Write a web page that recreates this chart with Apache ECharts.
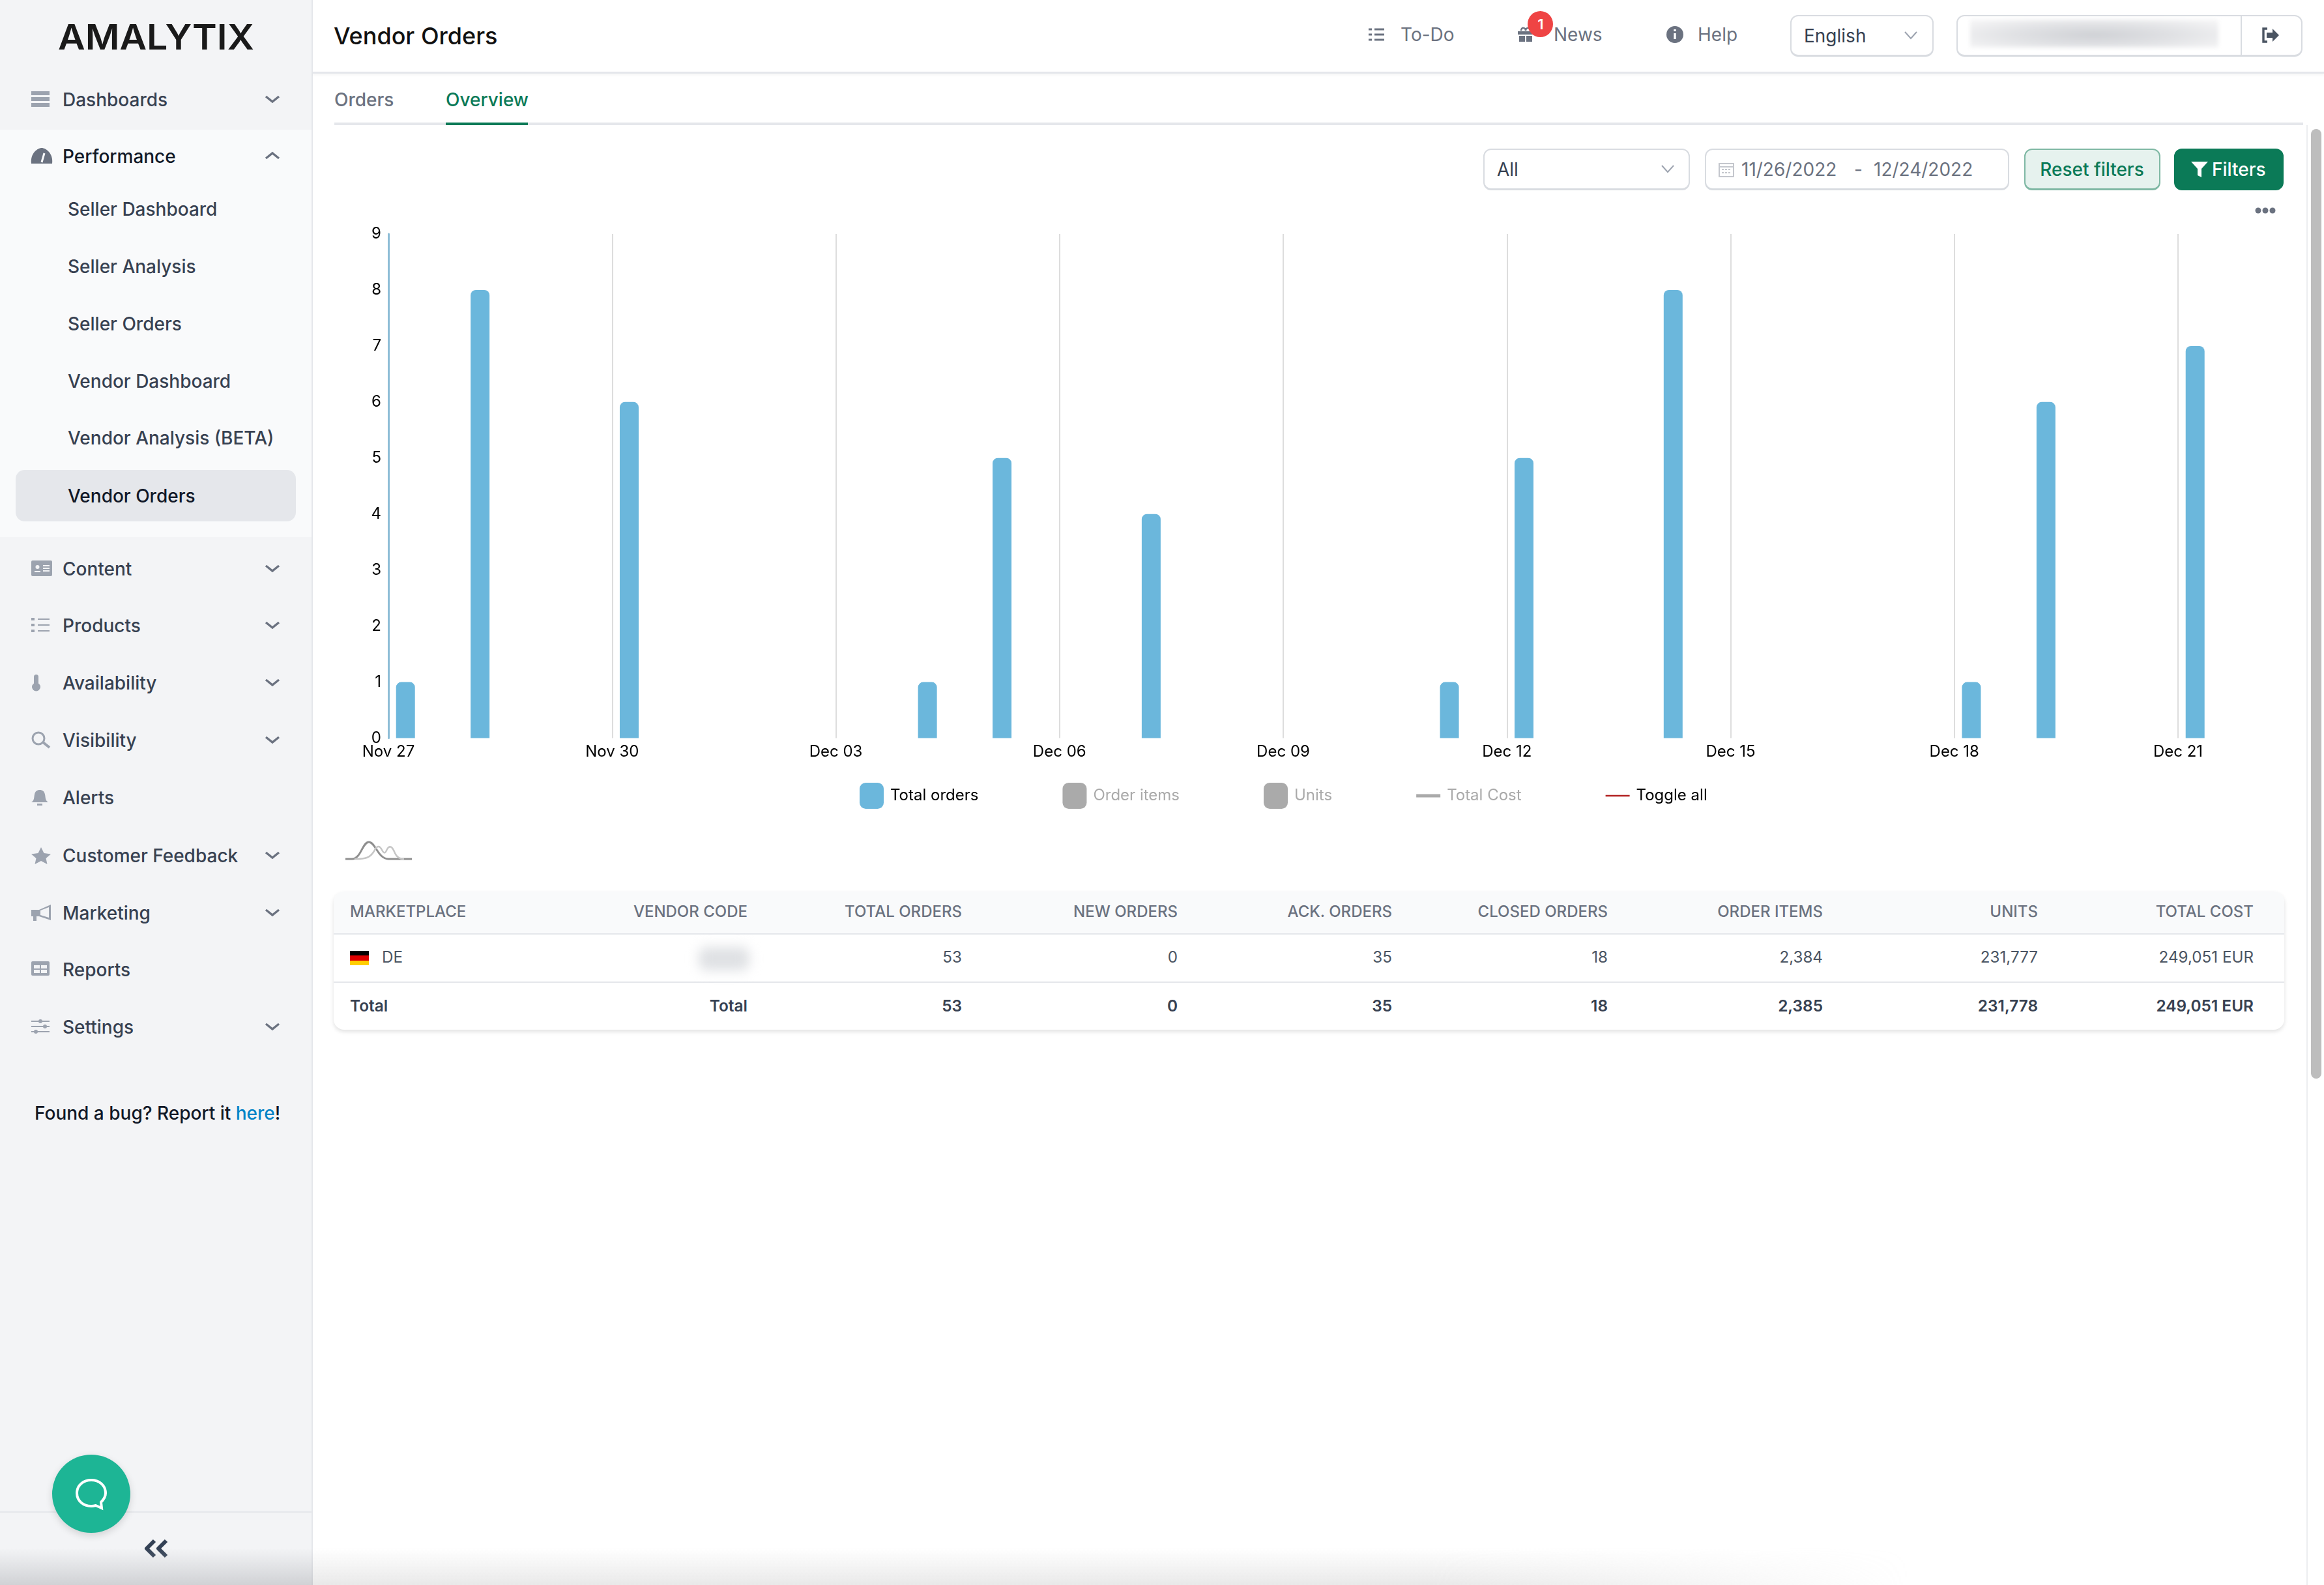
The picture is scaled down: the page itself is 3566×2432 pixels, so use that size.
<!DOCTYPE html>
<html>
<head>
<meta charset="utf-8">
<title>Vendor Orders</title>
<script src="https://cdn.jsdelivr.net/npm/echarts@6/dist/echarts.min.js"></script>
<style>
  html, body { margin: 0; padding: 0; background: #fff; }
  body { position: relative; width: 3566px; height: 2432px; overflow: hidden; font-family: Inter, sans-serif; color: #374151; }
  .abs { position: absolute; white-space: nowrap; line-height: 1; }
  .mid { transform: translateY(-50%); }
  .right { transform: translate(-100%, -50%); }
  svg { position: absolute; overflow: visible; }
  #sidebar { position: absolute; left: 0; top: 0; width: 478px; height: 2432px; background: #f3f4f6; border-right: 2px solid #e5e7eb; }
  #perf { position: absolute; left: 0; top: 199px; width: 478px; height: 625px; background: #f9fafb; }
  #active { position: absolute; left: 24px; top: 721px; width: 430px; height: 79px; background: #e5e7eb; border-radius: 14px; }
  .nav { font-size: 28px; font-weight: 500; }
  .box { position: absolute; box-sizing: border-box; border: 2px solid #d9dce1; border-bottom-width: 3px; border-radius: 12px; background: #fff; }
  .tab { font-size: 28px; font-weight: 500; }
  #card { position: absolute; left: 512px; top: 1368px; width: 2993px; height: 212px; background: #fff; border-radius: 16px; box-shadow: 0 3px 6px rgba(0,0,0,.12); overflow: hidden; }
  #card .head { position: absolute; left: 0; top: 0; width: 100%; height: 64px; background: #f9fafb; border-bottom: 2px solid #e5e7eb; }
  #card .sep { position: absolute; left: 0; top: 138px; width: 100%; height: 2px; background: #e5e7eb; }
  .th { font-size: 24px; font-weight: 500; color: #6b7280; }
  .td { font-size: 24.2px; color: #4b5563; }
  .tt { font-size: 24.4px; font-weight: 600; color: #374151; }
  #chart { position: absolute; left: 481px; top: 300px; width: 3050px; height: 960px; }
</style>
</head>
<body>
<div id="sidebar"></div>
<div id="perf"></div>
<div id="active"></div>
<div class="abs" style="left:89px;top:57px;font-size:54px;font-weight:600;color:#1a1a1a;transform-origin:left center;transform:translateY(-50%) scaleX(1.06)">AMALYTIX</div>
<div id="navItems"></div>
<div class="abs mid nav" style="left:53px;top:1708px;color:#111827">Found a bug? Report it <span style="color:#0284c7">here</span>!</div>
<div style="position:absolute;left:0;top:2319px;width:478px;height:2px;background:#e5e7eb"></div>
<div style="position:absolute;left:80px;top:2232px;width:120px;height:120px;border-radius:50%;background:#1db595;box-shadow:0 4px 12px rgba(0,0,0,.14)"></div>
<svg style="left:116px;top:2269px" width="48" height="46" viewBox="0 0 48 46"><path d="M24 2C12 2 2 10 2 22s10 20 22 20c3 0 5-.5 7-1l9 4-1-9c4-4 7-8 7-14C46 10 36 2 24 2z" fill="none" stroke="#fff" stroke-width="4"/></svg>
<svg style="left:220px;top:2361px" width="38" height="30" viewBox="0 0 38 30"><path d="M17 3L5 15l12 12M35 3L23 15l12 12" fill="none" stroke="#334155" stroke-width="6" stroke-linejoin="round"/></svg>

<!-- header -->
<div style="position:absolute;left:480px;top:110px;width:3086px;height:3px;background:#e5e7eb;box-shadow:0 2px 4px rgba(0,0,0,.06)"></div>
<div class="abs mid" style="left:512px;top:55px;font-size:36px;font-weight:500;color:#111">Vendor Orders</div>
<svg style="left:2100px;top:42px" width="26" height="22" viewBox="0 0 26 22"><path d="M0 3h5M0 11h5M0 19h5M9 3h15M9 11h15M9 19h15" stroke="#6b7280" stroke-width="3"/></svg>
<div class="abs mid tab" style="left:2149px;top:53px;color:#6b7280;font-weight:400">To-Do</div>
<svg style="left:2329px;top:42px" width="24" height="22" viewBox="0 0 24 22"><path d="M0 6h24v5H0zM2 13h9v9H2zM13 13h9v9h-9z" fill="#6b7280"/><path d="M5 5c0-6 7-5 7 0 0-5 7-6 7 0" fill="none" stroke="#6b7280" stroke-width="2.500"/></svg>
<div class="abs" style="left:2344px;top:17px;width:39px;height:40px;border-radius:50%;background:#ef4444"></div>
<div class="abs" style="left:2364px;top:37px;font-size:22px;font-weight:600;color:#fff;transform:translate(-50%,-50%)">1</div>
<div class="abs mid tab" style="left:2384px;top:53px;color:#6b7280;font-weight:400">News</div>
<svg style="left:2557px;top:40px" width="26" height="26" viewBox="0 0 26 26"><circle cx="13" cy="13" r="13" fill="#6b7280"/><path d="M13 5v3M13 11v9" stroke="#fff" stroke-width="3.4"/></svg>
<div class="abs mid tab" style="left:2605px;top:53px;color:#6b7280;font-weight:400">Help</div>
<div class="box" style="left:2747px;top:23px;width:220px;height:64px"></div>
<div class="abs mid tab" style="left:2768px;top:55px;font-weight:400;color:#374151">English</div>
<svg style="left:2922px;top:48px" width="20" height="12" viewBox="0 0 20 12"><path d="M1 1l9 10 9-10" fill="none" stroke="#9ca3af" stroke-width="2"/></svg>
<div class="box" style="left:3002px;top:23px;width:531px;height:64px"></div>
<div style="position:absolute;left:3438px;top:24px;width:2px;height:61px;background:#d9dce1"></div>
<div style="position:absolute;left:3023px;top:30px;width:381px;height:43px;background:radial-gradient(ellipse at 50% 55%, #cfd1d5 0%, #e0e1e4 45%, #f4f4f5 90%);filter:blur(3px)"></div>
<svg style="left:3470px;top:42px" width="28" height="24" viewBox="0 0 28 24"><path d="M9 2H3v20h6" fill="none" stroke="#4b5563" stroke-width="3.4"/><path d="M8 8h9V2l10 10-10 10v-6H8z" fill="#4b5563"/></svg>

<!-- tabs -->
<div style="position:absolute;left:513px;top:188px;width:3021px;height:4px;background:#e5e7eb"></div>
<div style="position:absolute;left:684px;top:188px;width:126px;height:4px;background:#0b7a57"></div>
<div class="abs mid tab" style="left:513px;top:153px;color:#6b7280">Orders</div>
<div class="abs mid tab" style="left:684px;top:153px;color:#0b7a57">Overview</div>

<!-- scrollbar -->
<div style="position:absolute;left:3539px;top:192px;width:2px;height:2240px;background:#eceef0"></div>
<div style="position:absolute;left:3546px;top:198px;width:16px;height:1457px;border-radius:8px;background:#bdbdbd"></div>

<!-- filters -->
<div class="box" style="left:2276px;top:228px;width:317px;height:64px"></div>
<div class="abs mid tab" style="left:2297px;top:260px;font-weight:400;color:#374151">All</div>
<svg style="left:2549px;top:253px" width="20" height="12" viewBox="0 0 20 12"><path d="M1 1l9 10 9-10" fill="none" stroke="#9ca3af" stroke-width="2"/></svg>
<div class="box" style="left:2616px;top:228px;width:467px;height:64px"></div>
<svg style="left:2637px;top:248px" width="24" height="24" viewBox="0 0 24 24"><rect x="1" y="3" width="22" height="20" fill="none" stroke="#c4c7cd" stroke-width="2"/><path d="M1 8h22" stroke="#c4c7cd" stroke-width="2"/><path d="M5 12h14M5 17h14" stroke="#c4c7cd" stroke-width="2" stroke-dasharray="3 2"/></svg>
<div class="abs mid tab" style="left:2672px;top:260px;font-weight:400;color:#6b7280">11/26/2022</div>
<div class="abs mid tab" style="left:2845px;top:260px;font-weight:400;color:#6b7280">-</div>
<div class="abs mid tab" style="left:2875px;top:260px;font-weight:400;color:#6b7280">12/24/2022</div>
<div class="box" style="left:3106px;top:228px;width:209px;height:64px;background:#e6f2ee;border-color:#7fb8a4"></div>
<div class="abs tab" style="left:3210px;top:260px;color:#0b7a57;transform:translate(-50%,-50%)">Reset filters</div>
<div class="box" style="left:3336px;top:228px;width:168px;height:64px;background:#0b7a57;border-color:#0b7a57"></div>
<svg style="left:3362px;top:248px" width="26" height="24" viewBox="0 0 26 24"><path d="M0 0h26L16 11v13l-6-3V11z" fill="#fff"/></svg>
<div class="abs mid tab" style="left:3394px;top:260px;color:#fff">Filters</div>
<svg style="left:3460px;top:317px" width="32" height="12" viewBox="0 0 32 12"><circle cx="5" cy="6" r="4.5" fill="#6b7280"/><circle cx="16" cy="6" r="4.5" fill="#6b7280"/><circle cx="27" cy="6" r="4.5" fill="#6b7280"/></svg>

<div id="chart"></div>

<!-- small line icon above the table -->
<svg style="left:530px;top:1290px" width="102" height="30" viewBox="0 0 102 30">
  <path d="M0 28h10c14 0 16-26 26-26s14 26 30 26h36" fill="none" stroke="#8f8f8f" stroke-width="3"/>
  <path d="M14 28c18 0 24-2 30-12 4-8 8-10 12-2 3 6 5 6 8-1 4-7 8-4 12 6 3 7 8 9 14 9" fill="none" stroke="#c6c6c6" stroke-width="2.5"/>
</svg>

<div id="card"><div class="head"></div><div class="sep"></div></div>
<div id="tableText"></div>

<!-- grey fade at the bottom edge of the window -->
<div style="position:absolute;left:0;top:2375px;width:480px;height:57px;background:linear-gradient(rgba(180,182,186,0),rgba(180,182,186,.55))"></div>
<div style="position:absolute;left:480px;top:2375px;width:2450px;height:57px;background:linear-gradient(rgba(200,200,200,0),rgba(200,200,200,.4));-webkit-mask-image:linear-gradient(90deg,#000 70%,transparent)"></div>

<script>
// chart data
const orderDates = ['2022-11-27', '2022-11-28', '2022-11-30', '2022-12-04', '2022-12-05', '2022-12-07',
    '2022-12-11', '2022-12-12', '2022-12-14', '2022-12-18', '2022-12-19', '2022-12-21']
const orderCounts = [1, 8, 6, 1, 5, 4, 1, 5, 8, 1, 6, 7]
const tickLabels = ['Nov 27', 'Nov 30', 'Dec 03', 'Dec 06', 'Dec 09', 'Dec 12', 'Dec 15', 'Dec 18', 'Dec 21']
const legendBars = ['Total orders', 'Order items', 'Units']
const legendLines = ['Total Cost', 'Toggle all']

// table data
const tableHeaders = ['VENDOR CODE', 'TOTAL ORDERS', 'NEW ORDERS', 'ACK. ORDERS', 'CLOSED ORDERS', 'ORDER ITEMS', 'UNITS', 'TOTAL COST']
const deRow = ['', '53', '0', '35', '18', '2,384', '231,777', '249,051 EUR']
const totalRow = ['Total', '53', '0', '35', '18', '2,385', '231,778', '249,051 EUR']

// sidebar
const mainMenu = [['Dashboards', 153], ['Performance', 240], ['Content', 873], ['Products', 960], ['Availability', 1048],
    ['Visibility', 1136], ['Alerts', 1224], ['Customer Feedback', 1313], ['Marketing', 1401], ['Reports', 1488], ['Settings', 1576]]
const subMenu = [['Seller Dashboard', 321], ['Seller Analysis', 409], ['Seller Orders', 497], ['Vendor Dashboard', 585],
    ['Vendor Analysis (BETA)', 672], ['Vendor Orders', 761]]
const noChevron = ['Alerts', 'Reports']

const menuIcons = {
    'Dashboards': '<path d="M0 0h28v6H0zM0 9h28v6H0zM0 18h28v6H0z" fill="#9ca3af"/>',
    'Performance': '<path d="M0 24C-2 8 10 0 16 0s18 8 16 24z" fill="#6b7280"/><path d="M16 22l4-14" stroke="#f9fafb" stroke-width="3"/>',
    'Content': '<rect width="32" height="24" rx="2" fill="#9ca3af"/><path d="M18 8h10M18 12h10M18 16h10M5 17h9" stroke="#f3f4f6" stroke-width="2"/><circle cx="9.5" cy="10" r="3" fill="#f3f4f6"/>',
    'Products': '<path d="M0 3h5M0 12h5M0 21h5" stroke="#9ca3af" stroke-width="4"/><path d="M10 3h18M10 12h18M10 21h18" stroke="#9ca3af" stroke-width="2"/>',
    'Availability': '<rect x="4" y="0" width="7" height="18" rx="3.5" fill="#9ca3af"/><circle cx="7.5" cy="19" r="6.5" fill="#9ca3af"/>',
    'Visibility': '<circle cx="11" cy="10" r="9" fill="none" stroke="#9ca3af" stroke-width="3"/><path d="M18 16l10 8" stroke="#9ca3af" stroke-width="4"/>',
    'Alerts': '<path d="M0 20c5-3 4-8 5-12 1-5 4-7 8-7s7 2 8 7c1 4 0 9 5 12z" fill="#9ca3af"/><rect x="9" y="22" width="8" height="3" fill="#9ca3af"/>',
    'Customer Feedback': '<path d="M15 0l4.5 9 10.5 1.500-7.500 6.500 2 9-9.500-5-9.500 5 2-9L0 10.500 10.500 9z" fill="#9ca3af"/>',
    'Marketing': '<path d="M0 8h12L30 0v24L12 18H8v7H3v-7H0z" fill="#9ca3af"/><path d="M14 9l13-5v16l-13-4z" fill="#f3f4f6"/>',
    'Reports': '<rect width="28" height="22" rx="2" fill="#9ca3af"/><path d="M4 6h9v5H4zM15 6h9v5h-9zM4 13h9v5H4zM15 13h9v5h-9z" fill="#f3f4f6"/>',
    'Settings': '<path d="M0 4h28M0 12h28M0 20h28" stroke="#9ca3af" stroke-width="2"/><circle cx="14" cy="4" r="3" fill="#9ca3af"/><circle cx="21" cy="12" r="3" fill="#9ca3af"/><circle cx="7" cy="20" r="3" fill="#9ca3af"/>'
}

const addText = function (parent, cls, left, top, text, color) {
    const div = document.createElement('div')
    div.className = 'abs ' + cls
    div.style.left = left + 'px'
    div.style.top = top + 'px'
    if (color) div.style.color = color
    div.textContent = text
    parent.appendChild(div)
    return div
}

const navItems = document.getElementById('navItems')
mainMenu.forEach(function (item) {
    const name = item[0], y = item[1]
    const strong = name === 'Performance'
    addText(navItems, 'mid nav', 96, y, name, strong ? '#111827' : '#374151')
    navItems.insertAdjacentHTML('beforeend', '<svg style="left:48px;top:' + (y - 13) + 'px" width="32" height="26" viewBox="0 0 32 26">' + menuIcons[name] + '</svg>')
    if (!noChevron.includes(name)) {
        const d = strong ? 'M2 11l10-8 10 8' : 'M2 3l10 8 10-8'
        navItems.insertAdjacentHTML('beforeend', '<svg style="left:406px;top:' + (y - 8) + 'px" width="24" height="14" viewBox="0 0 24 14"><path d="' + d + '" fill="none" stroke="#6b7280" stroke-width="3.4"/></svg>')
    }
})
subMenu.forEach(function (item) {
    addText(navItems, 'mid nav', 104, item[1], item[0], item[0] === 'Vendor Orders' ? '#111827' : '#374151')
})

// table text, the card is drawn in html around it
const columnRight = [1147, 1476, 1807, 2136, 2467, 2797, 3127, 3458]
const tableText = document.getElementById('tableText')
addText(tableText, 'mid th', 537, 1399, 'MARKETPLACE')
addText(tableText, 'mid td', 586, 1469, 'DE')
addText(tableText, 'mid tt', 537, 1543, 'Total')
tableHeaders.forEach(function (header, i) {
    addText(tableText, 'right th', columnRight[i], 1399, header)
    if (deRow[i]) addText(tableText, 'right td', columnRight[i], 1469, deRow[i])
    addText(tableText, 'right tt', columnRight[i], 1543, totalRow[i])
})
tableText.insertAdjacentHTML('beforeend', '<div style="position:absolute;left:537px;top:1459px;width:29px;height:22px;background:linear-gradient(#000 33%,#d00 33%,#d00 66%,#ffce00 66%)"></div>')
tableText.insertAdjacentHTML('beforeend', '<div style="position:absolute;left:1072px;top:1453px;width:78px;height:36px;background:#dfe1e4;border-radius:12px;filter:blur(9px)"></div>')

// orders are stamped in the account timezone, so bars sit a bit right of the day gridline
const DAY = 24 * 3600 * 1000
const timezoneShift = 5.5 / 24
const firstDay = Date.parse(orderDates[0])
const ordersData = orderDates.map(function (date, i) {
    return [(Date.parse(date) - firstDay) / DAY + timezoneShift, orderCounts[i]]
})

const myChart = echarts.init(document.getElementById('chart'))
const tickStep = 3

const barSeries = legendBars.map(function (name, i) {
    return {
        name: name,
        type: 'bar',
        clip: false,
        barWidth: 29,
        data: i === 0 ? ordersData : [],
        itemStyle: {color: '#6bb7dc', borderRadius: [8, 8, 0, 0]}
    }
})
const lineSeries = legendLines.map(function (name) {
    return {
        name: name,
        type: 'line',
        symbol: 'none',
        data: [],
        lineStyle: {width: 2, color: '#b22222'},
        itemStyle: {color: '#b22222'}
    }
})

const option = {
    animation: false,
    grid: {left: 115, top: 59, width: 2746, height: 773.5},
    legend: {
        left: 833,
        top: 896,
        itemGap: 129,
        itemWidth: 37,
        itemHeight: 40,
        inactiveColor: '#aaaaaa',
        textStyle: {fontFamily: 'Inter', fontSize: 24, color: '#000000', padding: [0, 0, 0, 5]},
        data: [
            {name: legendBars[0], icon: 'roundRect'},
            {name: legendBars[1], icon: 'roundRect'},
            {name: legendBars[2], icon: 'roundRect'},
            // line series would get a circle on the icon, so the line is drawn as a path
            {name: legendLines[0], icon: 'path://M0 0h37v5H0z'},
            {name: legendLines[1], icon: 'path://M0 0h37v2.500H0z'}
        ],
        selected: {'Order items': false, 'Units': false, 'Total Cost': false}
    },
    xAxis: {
        type: 'value',
        min: 0,
        max: tickStep * (tickLabels.length - 1),
        interval: tickStep,
        axisLine: {show: false},
        axisTick: {show: false},
        splitLine: {show: true, lineStyle: {color: '#dddddd', width: 2}},
        axisLabel: {
            margin: 9,
            fontFamily: 'Inter',
            fontSize: 24,
            color: '#000000',
            formatter: function (value) {
                return tickLabels[value / tickStep]
            }
        }
    },
    yAxis: {
        type: 'value',
        min: 0,
        max: 9,
        interval: 1,
        splitLine: {show: false},
        axisTick: {show: false},
        axisLine: {show: true, lineStyle: {color: '#8dbdd6', width: 3}},
        axisLabel: {margin: 11, padding: [3, 0, 0, 0], fontFamily: 'Inter', fontSize: 24, color: '#000000'}
    },
    series: barSeries.concat(lineSeries)
}

myChart.setOption(option)
</script>
</body>
</html>
